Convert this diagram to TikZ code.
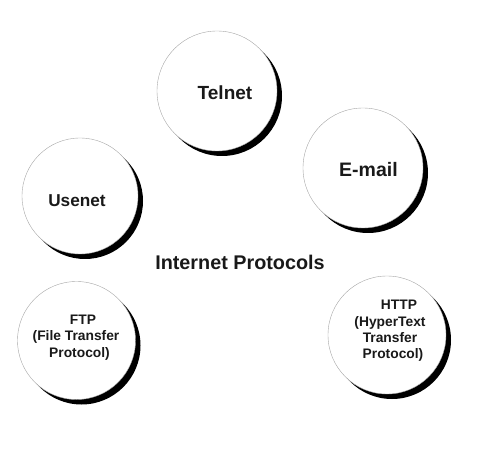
\documentclass[tikz,border=0pt]{standalone}
\usepackage{fontspec}
\setmainfont{Liberation Sans}
\usetikzlibrary{shadows}
\begin{document}
\begin{tikzpicture}[x=1pt,y=-1pt,
  proto/.style={circle, draw=black!35, line width=0.4pt, fill=white,
    minimum size=#1, inner sep=0pt,
    drop shadow={shadow xshift=5pt, shadow yshift=-5pt, fill=black, opacity=1}},
  proto/.default=120pt,
  biglbl/.style={font=\bfseries\fontsize{#1}{22}\selectfont, text=black!90, inner sep=0pt},
  smalllbl/.style={font=\bfseries\fontsize{13.8}{16.3}\selectfont, text=black!90, align=center, inner sep=0pt}]
\useasboundingbox (0,0) rectangle (496,468);
% circles
\node[proto=120pt] (telnet) at (217,91) {};
\node[proto=116pt] (usenet) at (80,196) {};
\node[proto=120pt] (email) at (363,168) {};
\node[proto=118pt] (ftp) at (76.5,340.5) {};
\node[proto=118pt] (http) at (387,335) {};
% labels
\node[biglbl=19] (telnetlbl) at (225,93) {Telnet};
\node[biglbl=17.2] (usenetlbl) at (77,201) {Usenet};
\node[biglbl=19.5] (emaillbl) at (368.5,170) {E-mail};
\node[biglbl=19.8] (title) at (240,262) {Internet Protocols};
\node[smalllbl] (ftplbl) at (76,337.5) {\hspace*{14pt}FTP\\(File Transfer\\\hspace*{7pt}Protocol)};
\node[smalllbl] (httplbl) at (390,331) {\hspace*{18pt}HTTP\\(HyperText\\Transfer\\\hspace*{6pt}Protocol)};
\end{tikzpicture}
\end{document}
